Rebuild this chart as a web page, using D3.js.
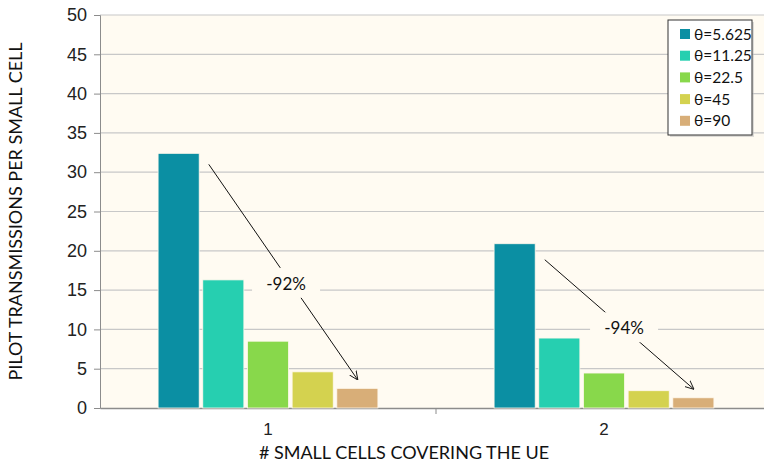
<!DOCTYPE html>
<html>
<head>
<meta charset="utf-8">
<script src="https://cdn.jsdelivr.net/npm/d3@7"></script>
<style>
  body { margin: 0; background: #fff; }
  svg { display: block; font-family: Lato, "Open Sans", sans-serif; }
</style>
</head>
<body>
<svg width="764" height="462"></svg>
<script>
// data
var categories = ["1", "2"];
var seriesNames = ["θ=5.625", "θ=11.25", "θ=22.5", "θ=45", "θ=90"];
var seriesColors = ["#0b8fa3", "#26cfb0", "#88d84b", "#d4d24f", "#d8ae78"];
var values = [
  [32.4, 20.9],   // θ=5.625
  [16.3, 8.9],    // θ=11.25
  [8.5, 4.45],    // θ=22.5
  [4.6, 2.2],     // θ=45
  [2.5, 1.3]      // θ=90
];
var yTicks = [0, 5, 10, 15, 20, 25, 30, 35, 40, 45, 50];
var reductions = ["-92%", "-94%"];

var svg = d3.select("svg"),
    width = +svg.attr("width"),
    height = +svg.attr("height");

var mLeft = 100, mRight = 772, mTop = 15, mBottom = 408;

var x0 = d3.scaleBand().domain(categories).range([mLeft, mRight]);
var x1 = d3.scaleBand().domain(seriesNames)
    .range([0, x0.bandwidth()]).paddingInner(0.08).paddingOuter(1.3);
var y = d3.scaleLinear().domain([0, 50]).range([mBottom, mTop]);

// plot background
svg.append("rect")
    .attr("x", mLeft).attr("y", mTop)
    .attr("width", width - mLeft).attr("height", mBottom - mTop)
    .attr("fill", "#fffbf2");

// gridlines
svg.append("g").selectAll("line")
    .data(yTicks.slice(1))
    .enter().append("line")
    .attr("x1", mLeft).attr("x2", width)
    .attr("y1", function (d) { return y(d); })
    .attr("y2", function (d) { return y(d); })
    .attr("stroke", "#c8c8c8").attr("stroke-width", 1.2);

// y axis
var yAxis = svg.append("g")
    .attr("transform", "translate(" + mLeft + ",0)")
    .call(d3.axisLeft(y).tickValues(yTicks).tickSize(6).tickPadding(7));
yAxis.select(".domain").attr("stroke", "#8c8c8c");
yAxis.selectAll(".tick line").attr("stroke", "#8c8c8c");
yAxis.selectAll("text").attr("font-size", 18).attr("fill", "#222");

// x axis
var xAxis = svg.append("g")
    .attr("transform", "translate(0," + mBottom + ")")
    .call(d3.axisBottom(x0).tickSize(0).tickPadding(15));
xAxis.select(".domain").attr("stroke", "#8c8c8c").attr("stroke-width", 1.5);
xAxis.selectAll("text").attr("font-size", 17).attr("fill", "#222");
// category divider ticks
svg.append("g").selectAll("line")
    .data(categories.slice(1))
    .enter().append("line")
    .attr("x1", function (d) { return x0(d); })
    .attr("x2", function (d) { return x0(d); })
    .attr("y1", mBottom).attr("y2", mBottom + 6)
    .attr("stroke", "#8c8c8c");

// bars
var series = svg.append("g").selectAll("g")
    .data(values)
    .enter().append("g")
    .attr("fill", function (d, i) { return seriesColors[i]; });

series.selectAll("rect")
    .data(function (d, i) {
      return d.map(function (v, j) { return { s: seriesNames[i], c: categories[j], v: v }; });
    })
    .enter().append("rect")
    .attr("x", function (d) { return x0(d.c) + x1(d.s); })
    .attr("y", function (d) { return y(d.v); })
    .attr("width", x1.bandwidth())
    .attr("height", function (d) { return y(0) - y(d.v); })
    .attr("stroke", "#fff8ec").attr("stroke-width", 0.8);

// arrows
svg.append("defs").append("marker")
    .attr("id", "arrowhead")
    .attr("viewBox", "0 -5 10 10")
    .attr("refX", 9).attr("refY", 0)
    .attr("orient", "auto")
    .attr("markerWidth", 9).attr("markerHeight", 9)
    .attr("markerUnits", "userSpaceOnUse")
    .append("path")
    .attr("d", "M 0,-4.5 L 10,0 L 0,4.5")
    .attr("fill", "none").attr("stroke", "#111").attr("stroke-width", 1);

categories.forEach(function (c, j) {
  var second = seriesNames[1], last = seriesNames[seriesNames.length - 1];
  var sx = x0(c) + x1(second) + 6, sy = y(values[0][j]) + (j === 0 ? 11 : 16);
  var ex = x0(c) + x1(last) + x1.bandwidth() / 2, ey = y(values[4][j]) - 9;
  var mx = (sx + ex) / 2 + 3, my = (sy + ey) / 2 + 13;
  if (j === 1) { my = (sy + ey) / 2 + 5; mx = (sx + ex) / 2 + 5; }
  svg.append("line")
      .attr("x1", sx).attr("y1", sy).attr("x2", ex).attr("y2", ey)
      .attr("stroke", "#111").attr("stroke-width", 1)
      .attr("marker-end", "url(#arrowhead)");
  // label with background box
  svg.append("rect")
      .attr("x", mx - 34).attr("y", my - 17)
      .attr("width", 68).attr("height", 30)
      .attr("fill", "#fffbf2");
  svg.append("text")
      .attr("x", mx).attr("y", my + 5)
      .attr("text-anchor", "middle")
      .attr("font-size", 17).attr("fill", "#111")
      .text(reductions[j]);
});

// legend
var lg = svg.append("g").attr("transform", "translate(668,20)");
lg.append("rect")
    .attr("x", 2).attr("y", 2).attr("width", 84).attr("height", 115)
    .attr("fill", "#bbb").attr("opacity", 0.5);
lg.append("rect")
    .attr("width", 84).attr("height", 115)
    .attr("fill", "#fff").attr("stroke", "#333").attr("stroke-width", 1);
var item = lg.selectAll(".item")
    .data(seriesNames)
    .enter().append("g")
    .attr("transform", function (d, i) { return "translate(12," + (14 + i * 21.7) + ")"; });
item.append("rect")
    .attr("x", 0).attr("y", -5).attr("width", 10).attr("height", 10)
    .attr("fill", function (d, i) { return seriesColors[i]; });
item.append("text")
    .attr("x", 14).attr("y", 5.5)
    .attr("font-size", 15.5).attr("fill", "#111")
    .text(function (d) { return d; });

// axis titles
svg.append("text")
    .attr("transform", "translate(22," + ((mTop + mBottom) / 2) + ") rotate(-90)")
    .attr("text-anchor", "middle")
    .attr("font-size", 18).attr("fill", "#111")
    .text("PILOT TRANSMISSIONS PER SMALL CELL");
svg.append("text")
    .attr("x", 404).attr("y", 459)
    .attr("text-anchor", "middle")
    .attr("font-size", 18).attr("fill", "#111")
    .text("# SMALL CELLS COVERING THE UE");
</script>
</body>
</html>
